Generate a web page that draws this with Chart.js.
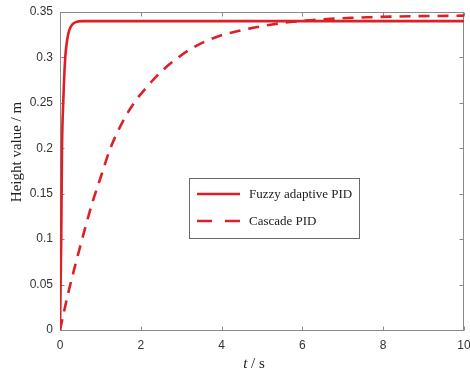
<!DOCTYPE html>
<html><head><meta charset="utf-8">
<script src="https://cdn.jsdelivr.net/npm/chart.js@4/dist/chart.umd.min.js"></script>
<style>html,body{margin:0;padding:0;background:#fff}#wrap{width:470px;height:377px;position:relative}</style>
</head><body><div id="wrap"><canvas id="c" width="470" height="377"></canvas></div>
<script>
// ---- data ----
const tFuzzy = [0, 0.015, 0.03, 0.04, 0.05, 0.08, 0.13, 0.18, 0.23, 0.3, 0.4, 0.55, 1, 2, 4, 6, 8, 10];
const hFuzzy = [0, 0.05, 0.1, 0.15, 0.2, 0.25, 0.3, 0.32, 0.33, 0.336, 0.339, 0.34, 0.34, 0.34, 0.34, 0.34, 0.34, 0.34];
const tCascade = [0, 0.2, 0.5, 0.8, 1.0, 1.23, 1.56, 1.85, 2.14, 2.52, 2.93, 3.34, 3.84, 4.21, 4.71, 5.21, 5.7, 6.2, 6.7, 7.2, 7.7, 8.2, 8.7, 10];
const hCascade = [0, 0.04, 0.092, 0.14, 0.167, 0.198, 0.23, 0.251, 0.267, 0.285, 0.3, 0.312, 0.322, 0.327, 0.332, 0.336, 0.339, 0.341, 0.3425, 0.3436, 0.3443, 0.3449, 0.3453, 0.346];
const seriesNames = ['Fuzzy adaptive PID', 'Cascade PID'];
const xTicks = [0, 2, 4, 6, 8, 10];
const yTicks = [0, 0.05, 0.1, 0.15, 0.2, 0.25, 0.3, 0.35];
const xTitleItalic = 't';
const xTitleRest = ' / s';
const yTitle = 'Height value / m';

const RED = '#dd1f26';
const AXIS = '#8a8a8a';
const toPts = (xs, ys) => xs.map((x, i) => ({x, y: ys[i]}));

const framePlugin = {
  id: 'frame',
  beforeDatasetsDraw(chart) {
    const {ctx, chartArea: a, scales: {x, y}} = chart;
    ctx.save();
    ctx.strokeStyle = AXIS; ctx.lineWidth = 1;
    const L = Math.round(a.left) + 0.5, R = Math.round(a.right) - 0.5;
    const T = Math.round(a.top) + 0.5, B = Math.round(a.bottom) + 0.5;
    ctx.strokeRect(L, T, R - L, B - T);
    ctx.beginPath();
    xTicks.forEach(v => {
      const px = Math.round(x.getPixelForValue(v)) + 0.5;
      ctx.moveTo(px, B); ctx.lineTo(px, B - 4);
      ctx.moveTo(px, T); ctx.lineTo(px, T + 4);
    });
    yTicks.forEach(v => {
      const py = Math.round(y.getPixelForValue(v)) + 0.5;
      ctx.moveTo(L, py); ctx.lineTo(L + 4, py);
      ctx.moveTo(R, py); ctx.lineTo(R - 4, py);
    });
    ctx.stroke();
    ctx.restore();
  },
  afterDraw(chart) {
    const {ctx} = chart;
    ctx.save();
    // axis titles
    ctx.fillStyle = '#222';
    ctx.textBaseline = 'middle';
    ctx.font = 'italic 15px "Liberation Serif"';
    const w1 = ctx.measureText(xTitleItalic).width;
    ctx.font = '15px "Liberation Serif"';
    const w2 = ctx.measureText(xTitleRest).width;
    let sx = 254 - (w1 + w2) / 2;
    ctx.textAlign = 'left';
    ctx.font = 'italic 15px "Liberation Serif"';
    ctx.fillText(xTitleItalic, sx, 364);
    ctx.font = '15px "Liberation Serif"';
    ctx.fillText(xTitleRest, sx + w1, 364);
    ctx.save();
    ctx.translate(17, 152);
    ctx.rotate(-Math.PI / 2);
    ctx.textAlign = 'center';
    ctx.fillText(yTitle, 0, 0);
    ctx.restore();
    // legend
    const bx = 189.5, by = 178.5, bw = 170, bh = 60;
    ctx.fillStyle = '#fff';
    ctx.fillRect(bx, by, bw, bh);
    ctx.strokeStyle = '#6a6a6a'; ctx.lineWidth = 1;
    ctx.strokeRect(bx, by, bw, bh);
    const rows = [194, 221];
    chart.data.datasets.forEach((ds, i) => {
      ctx.strokeStyle = ds.borderColor; ctx.lineWidth = ds.borderWidth;
      ctx.setLineDash(i === 0 ? [] : [15, 13]);
      ctx.beginPath(); ctx.moveTo(197, rows[i]); ctx.lineTo(240, rows[i]); ctx.stroke();
      ctx.setLineDash([]);
      ctx.fillStyle = '#222';
      ctx.font = '13px "Liberation Serif"';
      ctx.textAlign = 'left'; ctx.textBaseline = 'middle';
      ctx.fillText(ds.label, 249, rows[i] + 1);
    });
    ctx.restore();
  }
};

new Chart(document.getElementById('c'), {
  type: 'line',
  data: {
    datasets: [
      {label: seriesNames[0], data: toPts(tFuzzy, hFuzzy), borderColor: RED, borderWidth: 2.6,
       pointRadius: 0, cubicInterpolationMode: 'monotone', fill: false},
      {label: seriesNames[1], data: toPts(tCascade, hCascade), borderColor: RED, borderWidth: 2.6,
       borderDash: [11, 8], pointRadius: 0, cubicInterpolationMode: 'monotone', fill: false}
    ]
  },
  options: {
    responsive: false, animation: false, devicePixelRatio: 1,
    layout: {padding: {left: 0, right: 6, top: 12, bottom: 0}},
    plugins: {legend: {display: false}, tooltip: {enabled: false}},
    scales: {
      x: {type: 'linear', min: 0, max: 10,
          grid: {display: false, drawTicks: false}, border: {display: false},
          afterBuildTicks: s => { s.ticks = xTicks.map(v => ({value: v})); },
          ticks: {font: {family: '"Liberation Sans"', size: 12}, color: '#333', padding: 8, maxRotation: 0},
          afterFit: s => { s.height = 47; s.paddingLeft = 0; s.paddingRight = 0; }},
      y: {min: 0, max: 0.35,
          grid: {display: false, drawTicks: false}, border: {display: false},
          afterBuildTicks: s => { s.ticks = yTicks.map(v => ({value: v})); },
          ticks: {font: {family: '"Liberation Sans"', size: 12}, color: '#333', padding: 7,
                  callback: v => String(+v.toFixed(2))},
          afterFit: s => { s.width = 60; s.paddingTop = 0; s.paddingBottom = 0; }}
    }
  },
  plugins: [framePlugin]
});
</script></body></html>
